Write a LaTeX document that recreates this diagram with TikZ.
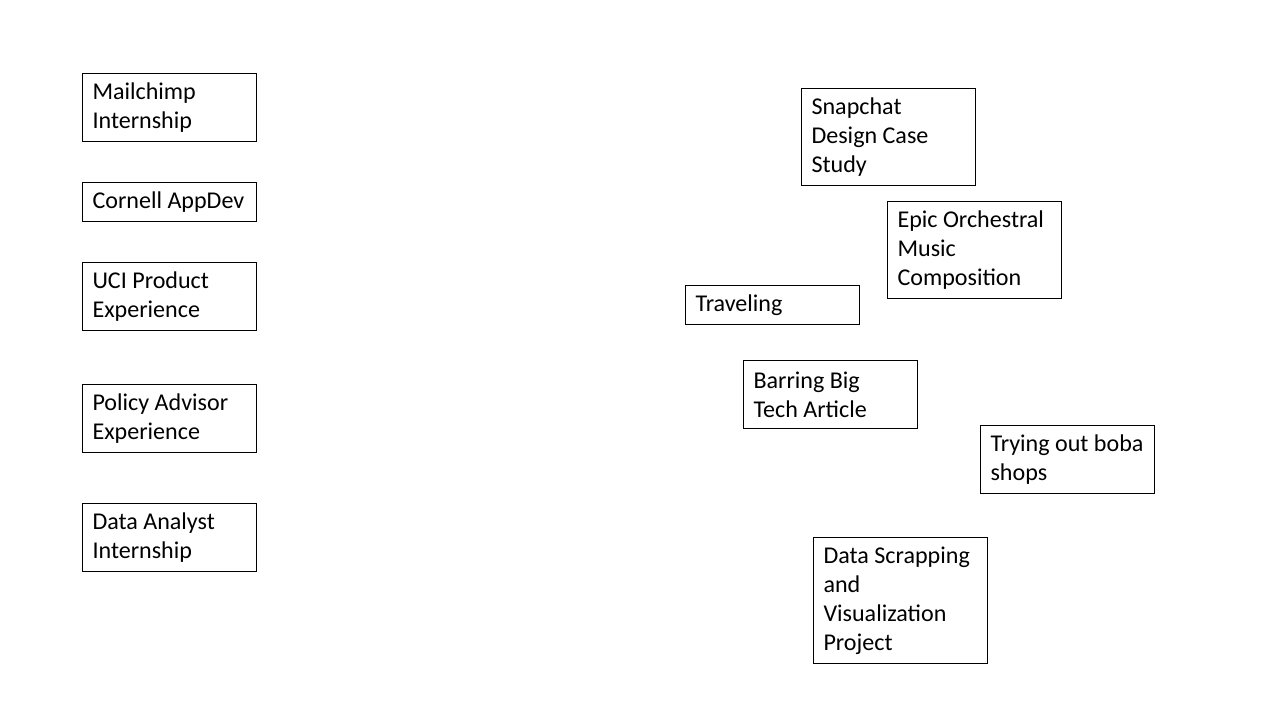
\documentclass[tikz,border=0pt]{standalone}
\usepackage{fontspec}
\setmainfont{Carlito}
\begin{document}
\begin{tikzpicture}[
    x=0.02cm, y=-0.02cm,
    item/.style={draw, line width=0.6pt, anchor=north west, align=flush left,
      text width=3.08cm, inner xsep=0.2cm, inner ysep=0pt,
      font=\fontsize{13.7pt}{16.5pt}\selectfont},
    one/.style={minimum height=0.78cm},
    two/.style={minimum height=1.36cm},
    three/.style={minimum height=1.94cm},
    four/.style={minimum height=2.52cm}
  ]
  \useasboundingbox (0,0) rectangle (1280,720);
  % Work experience
  \node[item, two] (mailchimp) at (82,73) {Mailchimp\\Internship};
  \node[item, one] (appdev) at (82,182) {\mbox{Cornell AppDev}};
  \node[item, two] (uci) at (82,262) {UCI Product\\Experience};
  \node[item, two] (policy) at (82,384) {\mbox{Policy Advisor}\\Experience};
  \node[item, two] (analyst) at (82,503) {Data Analyst\\Internship};

  % Projects and interests
  \node[item, three] (snapchat) at (801,88) {Snapchat\\Design Case\\Study};
  \node[item, three] (music) at (887,201) {\mbox{Epic Orchestral}\\Music\\Composition};
  \node[item, one] (travel) at (685,285) {Traveling};
  \node[item, two] (bigtech) at (743,360) {Barring Big\\Tech Article};
  \node[item, two] (boba) at (980,425) {\mbox{Trying out boba}\\shops};
  \node[item, four] (scrapping) at (813,537) {\mbox{Data Scrapping}\\and\\Visualization\\Project};
\end{tikzpicture}
\end{document}
